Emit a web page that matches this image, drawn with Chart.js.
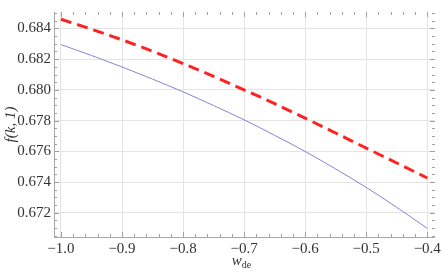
<!DOCTYPE html>
<html>
<head>
<meta charset="utf-8">
<script src="https://cdn.jsdelivr.net/npm/chart.js@4.4.0/dist/chart.umd.min.js"></script>
<style>
  body { margin: 0; background: #fff; }
  #canvas { display: block; }
</style>
</head>
<body>
<canvas id="canvas" width="444" height="273"></canvas>
<script>
// values
var wde = [-1.0, -0.95, -0.9, -0.85, -0.8, -0.75, -0.7, -0.65, -0.6, -0.55, -0.5, -0.45, -0.4];
var fDashed = [0.68460, 0.68395, 0.68326, 0.68251, 0.68171, 0.68088, 0.68000, 0.67910, 0.67816, 0.67719, 0.67621, 0.67524, 0.67426];
var fSolid = [0.68295, 0.68224, 0.68149, 0.68070, 0.67987, 0.67898, 0.67805, 0.67704, 0.67599, 0.67485, 0.67365, 0.67235, 0.67098];
var xTicks = [-1.0, -0.9, -0.8, -0.7, -0.6, -0.5, -0.4];
var yTicks = [0.672, 0.674, 0.676, 0.678, 0.680, 0.682, 0.684];

// pick the first serif face that is really installed
function pickSerif() {
    var cands = ['Liberation Serif', 'DejaVu Serif', 'Times New Roman', 'Noto Serif', 'FreeSerif', 'Nimbus Roman', 'Tinos'];
    var c = document.createElement('canvas').getContext('2d');
    var probe = 'mmmwwwlli 0.684 f(k,1)';
    c.font = '40px monospace';
    var base = c.measureText(probe).width;
    for (var i = 0; i < cands.length; i++) {
        c.font = "40px '" + cands[i] + "', monospace";
        if (c.measureText(probe).width !== base) return "'" + cands[i] + "', serif";
    }
    return 'serif';
}
var serif = pickSerif();

function pts(xs, ys) {
    var out = [];
    for (var i = 0; i < xs.length; i++) out.push({ x: xs[i], y: ys[i] });
    return out;
}

// inward frame ticks and axis titles, Mathematica style
var frameStuff = {
    id: 'frameStuff',
    afterDraw: function (chart) {
        var c = chart.ctx, a = chart.chartArea;
        var xs = chart.scales.x, ys = chart.scales.y;
        c.save();
        c.strokeStyle = '#a0a0a0';
        c.lineWidth = 1;
        c.beginPath();
        for (var k = -50; k <= -19; k++) {
            var v = k / 50, px = Math.round(xs.getPixelForValue(v)) + 0.5;
            if (px < a.left || px > a.right) continue;
            var len = (k % 5 === 0) ? 5 : 3;
            c.moveTo(px, a.bottom); c.lineTo(px, a.bottom - len);
            c.moveTo(px, a.top); c.lineTo(px, a.top + len);
        }
        for (var m = 1341; m <= 1370; m++) {
            var vy = m / 2000, py = Math.round(ys.getPixelForValue(vy)) + 0.5;
            if (py < a.top || py > a.bottom) continue;
            var ly = (m % 4 === 0) ? 5 : 3;
            c.moveTo(a.left, py); c.lineTo(a.left + ly, py);
            c.moveTo(a.right, py); c.lineTo(a.right - ly, py);
        }
        c.stroke();

        c.fillStyle = '#333';
        // y title
        c.save();
        c.translate(11, (a.top + a.bottom) / 2);
        c.rotate(-Math.PI / 2);
        c.font = 'italic 15px ' + serif;
        c.textAlign = 'center';
        c.textBaseline = 'middle';
        c.fillText('f(k, 1)', 0, 0);
        c.restore();
        // x title with subscript
        c.font = 'italic 15px ' + serif;
        var w1 = c.measureText('w').width;
        c.font = '10px ' + serif;
        var w2 = c.measureText('de').width;
        var x0 = (a.left + a.right) / 2 - (w1 + w2) / 2 - 3;
        c.textBaseline = 'alphabetic';
        c.textAlign = 'left';
        c.font = 'italic 15px ' + serif;
        c.fillText('w', x0, 265);
        c.font = '10px ' + serif;
        c.fillText('de', x0 + w1, 268);
        c.restore();
    }
};

var ctx = document.getElementById('canvas');
var myChart = new Chart(ctx, {
    type: 'line',
    data: {
        datasets: [
            {
                label: 'solid',
                data: pts(wde, fSolid),
                borderColor: '#8484d2',
                borderWidth: 1,
                pointRadius: 0,
                cubicInterpolationMode: 'monotone',
                fill: false
            },
            {
                label: 'dashed',
                data: pts(wde, fDashed),
                borderColor: '#ff2222',
                borderWidth: 3,
                borderDash: [11, 6],
                pointRadius: 0,
                cubicInterpolationMode: 'monotone',
                fill: false
            }
        ]
    },
    options: {
        responsive: false,
        animation: false,
        layout: { padding: { top: 1, right: 7, left: 0, bottom: 0 } },
        plugins: { legend: { display: false }, tooltip: { enabled: false } },
        scales: {
            x: {
                type: 'linear',
                min: -1.0114,
                max: -0.3874,
                afterBuildTicks: function (s) { s.ticks = xTicks.map(function (v) { return { value: v }; }); },
                afterFit: function (s) { s.height = 36; },
                grid: { color: '#e4e4e4', drawTicks: false },
                border: { color: '#a8a8a8' },
                ticks: {
                    padding: 3,
                    color: '#333',
                    font: { family: serif, size: 15 },
                    maxRotation: 0,
                    callback: function (v) { return (v < 0 ? '\u2212' : '') + Math.abs(v).toFixed(1); }
                }
            },
            y: {
                min: 0.67042,
                max: 0.68507,
                afterBuildTicks: function (s) { s.ticks = yTicks.map(function (v) { return { value: v }; }); },
                afterFit: function (s) { s.width = 54; },
                grid: { color: '#e4e4e4', drawTicks: false },
                border: { color: '#a8a8a8' },
                ticks: {
                    padding: 3,
                    color: '#333',
                    font: { family: serif, size: 15 },
                    callback: function (v) { return v.toFixed(3); }
                }
            }
        }
    },
    plugins: [frameStuff]
});
</script>
</body>
</html>
